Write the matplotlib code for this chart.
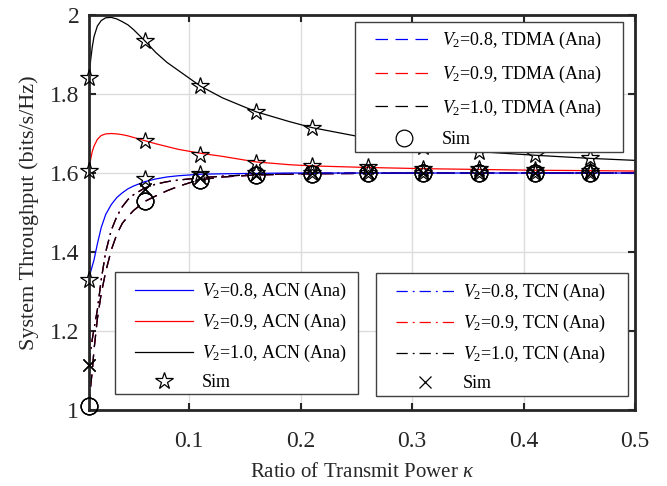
import matplotlib
matplotlib.use('Agg')
import matplotlib.pyplot as plt
from matplotlib.lines import Line2D
from matplotlib.patches import Rectangle

plt.rcParams['font.family'] = 'Liberation Serif'
plt.rcParams['mathtext.fontset'] = 'custom'
plt.rcParams['mathtext.rm'] = 'Liberation Serif'
plt.rcParams['mathtext.it'] = 'Liberation Serif:italic'

# analytic curves
kappa = [0.01, 0.0115, 0.013, 0.0145, 0.0175, 0.021, 0.025, 0.03, 0.035, 0.04,
         0.045, 0.05, 0.06, 0.07, 0.08, 0.09, 0.1, 0.11, 0.13, 0.16,
         0.19, 0.21, 0.26, 0.31, 0.36, 0.41, 0.46, 0.5]
acn_10 = [1.835, 1.886, 1.92, 1.945, 1.972, 1.986, 1.993, 1.994, 1.990, 1.983,
          1.975, 1.963, 1.935, 1.905, 1.88, 1.86, 1.84, 1.82, 1.79, 1.755,
          1.73, 1.715, 1.688, 1.668, 1.654, 1.645, 1.637, 1.632]
acn_09 = [1.605, 1.635, 1.655, 1.668, 1.685, 1.695, 1.699, 1.700, 1.699, 1.697,
          1.694, 1.69, 1.682, 1.674, 1.667, 1.66, 1.655, 1.65, 1.642, 1.628,
          1.621, 1.618, 1.614, 1.611, 1.609, 1.607, 1.606, 1.605]
acn_08 = [1.329, 1.35, 1.365, 1.38, 1.42, 1.462, 1.495, 1.52, 1.538, 1.55,
          1.56, 1.567, 1.578, 1.585, 1.59, 1.593, 1.595, 1.597, 1.598, 1.599,
          1.6, 1.6, 1.6, 1.6, 1.6, 1.6, 1.6, 1.6]
tcn = [1.114, 1.15, 1.18, 1.205, 1.253, 1.33, 1.40, 1.455, 1.49, 1.515,
       1.533, 1.545, 1.562, 1.572, 1.578, 1.582, 1.585, 1.588, 1.592, 1.596,
       1.598, 1.599, 1.6, 1.6, 1.6, 1.6, 1.6, 1.6]
tdma = [1.008, 1.06, 1.10, 1.152, 1.23, 1.295, 1.35, 1.405, 1.445, 1.473,
        1.49, 1.505, 1.528, 1.542, 1.555, 1.566, 1.575, 1.583, 1.59, 1.595,
        1.597, 1.598, 1.599, 1.6, 1.6, 1.6, 1.6, 1.6]

# simulation points
kappa_sim = [0.01, 0.06, 0.11, 0.16, 0.21, 0.26, 0.31, 0.36, 0.41, 0.46]
sim_acn_10 = [1.84, 1.935, 1.82, 1.755, 1.715, 1.688, 1.667, 1.653, 1.646, 1.638]
sim_acn_09 = [1.605, 1.68, 1.646, 1.626, 1.618, 1.614, 1.611, 1.609, 1.607, 1.606]
sim_acn_08 = [1.33, 1.585, 1.598, 1.6, 1.6, 1.6, 1.6, 1.6, 1.6, 1.6]
sim_tdma = [1.01, 1.53, 1.583, 1.595, 1.598, 1.6, 1.6, 1.6, 1.6, 1.6]
sim_tcn = [1.115, 1.56, 1.588, 1.596, 1.599, 1.6, 1.6, 1.6, 1.6, 1.6]

v2_labels = ['0.8', '0.9', '1.0']
colors = ['#0000ff', '#ff0000', '#000000']

dash = (0, (10, 6))
dashdot = (0, (9, 4, 1.5, 4))
lw = 0.9
W, H = 667, 486

fig = plt.figure(figsize=(6.67, 4.86), dpi=100)
ax = fig.add_axes([0.1334, 0.1564, 0.8186, 0.8127])

for c in colors:
    ax.plot(kappa, tdma, color=c, ls=dash, lw=lw)
for c in colors:
    ax.plot(kappa, tcn, color=c, ls=dashdot, lw=lw)
for c, y in zip(colors, [acn_08, acn_09, acn_10]):
    ax.plot(kappa, y, color=c, lw=lw)

mk = dict(ls='none', mfc='none', mec='black', mew=0.9, clip_on=False, zorder=5)
for y in [sim_acn_08, sim_acn_09, sim_acn_10]:
    ax.plot(kappa_sim, y, marker='*', ms=13, **mk)
for i in range(3):
    ax.plot(kappa_sim, sim_tdma, marker='o', ms=12, **mk)
    ax.plot(kappa_sim, sim_tcn, marker='x', ms=8, **mk)

ax.set_xlim(0.01, 0.5)
ax.set_ylim(1, 2)
ax.set_xticks([0.1, 0.2, 0.3, 0.4, 0.5])
ax.set_xticklabels(['0.1', '0.2', '0.3', '0.4', '0.5'])
ax.set_yticks([1, 1.2, 1.4, 1.6, 1.8, 2])
ax.set_yticklabels(['1', '1.2', '1.4', '1.6', '1.8', '2'])
ax.grid(True, color='#dcdcdc', lw=1)
ax.set_axisbelow(True)
ax.tick_params(direction='in', length=5, width=1.5, top=True, right=True,
               labelsize=17, colors='#262626')
ax.tick_params(axis='x', pad=15)
ax.tick_params(axis='y', pad=7)
for s in ax.spines.values():
    s.set_linewidth(2)
    s.set_color('#262626')
ax.set_xlabel(r'Ratio of Transmit Power $\kappa$', fontsize=15, color='#262626',
              labelpad=8)
ax.set_ylabel('System Throughput (bits/s/Hz)', fontsize=16, color='#262626',
              labelpad=8)


def make_legend(ls, marker, ms, name, box, top_pad, spacing):
    # box = left, top, right, bottom in pixels
    x0, y0, x1, y1 = box
    fig.patches.append(Rectangle((x0 / W, 1 - y1 / H), (x1 - x0) / W, (y1 - y0) / H,
                                 transform=fig.transFigure, fc='white',
                                 ec='#404040', lw=1, zorder=6))
    handles = [Line2D([], [], color=c, ls=ls, lw=lw) for c in colors]
    handles.append(Line2D([], [], ls='none', marker=marker, ms=ms, mfc='none',
                          mec='black', mew=0.9))
    labels = [r'$V_2$=' + v + ', ' + name + ' (Ana)' for v in v2_labels] + ['Sim']
    leg = fig.legend(handles, labels, loc='upper left',
                     bbox_to_anchor=((x0 + 20) / W, 1 - (y0 + top_pad) / H),
                     fontsize=13, frameon=False, handlelength=3.2,
                     handletextpad=0.5, borderaxespad=0, borderpad=0,
                     labelspacing=spacing)
    leg.set_zorder(7)
    return leg


make_legend(dash, 'o', 12, 'TDMA', (355, 22, 623, 152), 8, 0.7)
make_legend('-', '*', 13, 'ACN', (115, 272, 358, 394), 9, 0.55)
make_legend(dashdot, 'x', 8, 'TCN', (376, 273, 628, 396), 9, 0.55)

fig.savefig('out.png', dpi=100)
